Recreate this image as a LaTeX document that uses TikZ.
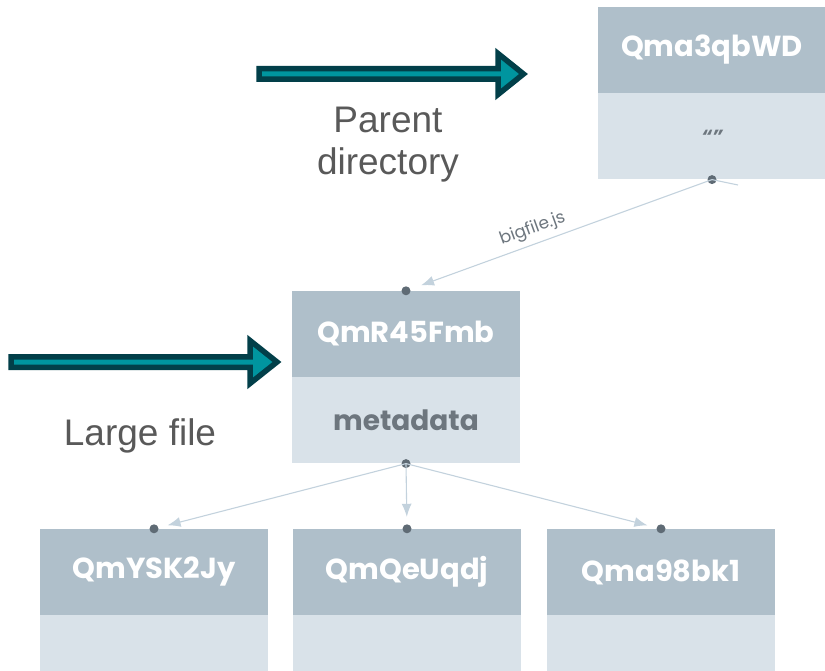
\documentclass[tikz,border=0pt]{standalone}
\usepackage{fontspec}
\setmainfont{Liberation Sans}
\newfontfamily\boxfont{Poppins}
\usetikzlibrary{arrows.meta}
\definecolor{headcol}{HTML}{AFBFCA}
\definecolor{bodycol}{HTML}{D9E2E9}
\definecolor{dotcol}{HTML}{5F6B75}
\definecolor{linkcol}{HTML}{C3D2DD}
\definecolor{labelcol}{HTML}{6D767E}
\definecolor{notecol}{HTML}{595959}
\definecolor{tealfill}{HTML}{00959F}
\definecolor{tealedge}{HTML}{023F49}
\tikzset{
  header/.style={rectangle, fill=headcol, minimum width=228pt, minimum height=86pt,
    inner sep=0pt, text=white, font=\boxfont\bfseries\fontsize{29}{32}\selectfont},
  bodybox/.style={rectangle, fill=bodycol, minimum width=228pt, minimum height=86pt,
    inner sep=0pt, text=labelcol, font=\boxfont\bfseries\fontsize{28}{32}\selectfont},
  dot/.style={circle, fill=dotcol, minimum size=9pt, inner sep=0pt},
  link/.style={draw=linkcol, line width=1.1pt,
    -{Latex[length=13pt,width=10pt,fill=linkcol]}, shorten >=14pt},
  note/.style={text=notecol, font=\fontsize{37}{42}\selectfont, align=center},
  bigarrow/.style={draw=tealedge, fill=tealfill, line width=5.5pt, line join=miter},
}
\begin{document}
\begin{tikzpicture}[x=1pt, y=-1pt]
\useasboundingbox (0,0) rectangle (825,671);

% parent directory block
\node[header] (topH) at (712,50) {Qma3qbWD};
\node[bodybox, anchor=north, font=\boxfont\bfseries\itshape\fontsize{19}{20}\selectfont] (topB) at (topH.south) {“”};

% large file block
\node[header] (midH) at (406,334) {QmR45Fmb};
\node[bodybox, anchor=north] (midB) at (midH.south) {metadata};

% chunk blocks
\node[header] (c1H) at (154,572) {QmYSK2Jy};
\node[bodybox, anchor=north] (c1B) at (c1H.south) {};
\node[header] (c2H) at (407,572) {QmQeUqdj};
\node[bodybox, anchor=north] (c2B) at (c2H.south) {};
\node[header] (c3H) at (661,572) {Qma98bk1};
\node[bodybox, anchor=north] (c3B) at (c3H.south) {};

% link end points
\node[dot] (topOut) at (topB.south) {};
\node[dot] (midIn) at (midH.north) {};
\node[dot] (midOut) at (midB.south) {};
\node[dot] (c1In) at (c1H.north) {};
\node[dot] (c2In) at (c2H.north) {};
\node[dot] (c3In) at (c3H.north) {};
\coordinate (sideEnd) at (738,185);

% links
\draw[link, shorten >=16pt] (topOut.center) -- node[pos=0.57, above=2pt, sloped, text=labelcol,
  font=\boxfont\fontsize{17}{18}\selectfont] (lbl) {bigfile.js} (midIn.center);
\draw[draw=linkcol, line width=1.1pt] (topOut.center) -- (sideEnd);
\draw[link] (midOut.center) -- (c1In.center);
\draw[link, shorten >=12pt] (midOut.center) -- (c2In.center);
\draw[link] (midOut.center) -- (c3In.center);

% annotation arrows
\filldraw[bigarrow] (259,68.75) -- (498,68.75) -- (498,53.5) -- (523.5,74) -- (498,94.5)
  -- (498,79.25) -- (259,79.25) -- cycle;
\filldraw[bigarrow] (11,356.75) -- (250,356.75) -- (250,340.5) -- (277,362) -- (250,383.5)
  -- (250,367.25) -- (11,367.25) -- cycle;

% annotation text
\node[note] (ptxt) at (388,145) {Parent\\directory};
\node[note] (ltxt) at (140,436) {Large file};
\end{tikzpicture}
\end{document}
